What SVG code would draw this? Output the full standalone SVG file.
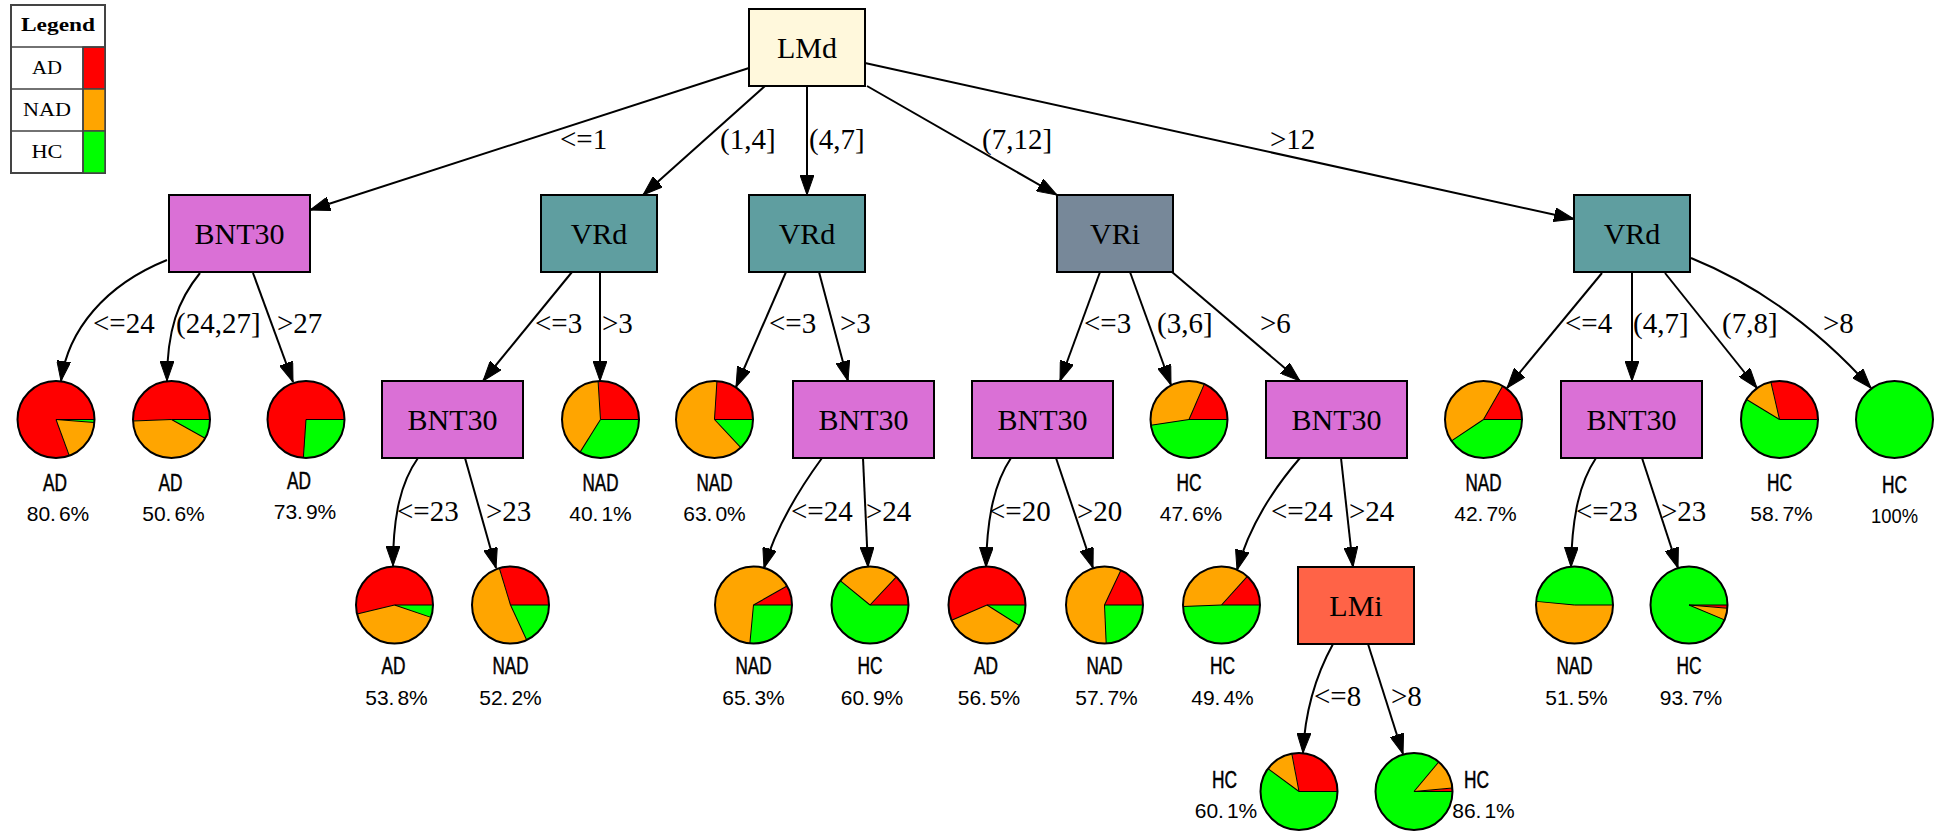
<svg xmlns="http://www.w3.org/2000/svg" width="1942" height="832" viewBox="0 0 1942 832">
<defs>
  <marker id="ah" markerUnits="userSpaceOnUse" viewBox="0 0 20 14" markerWidth="20" markerHeight="14" refX="20" refY="7" orient="auto">
    <path d="M0,0 L20,7 L0,14 Z" fill="#000" stroke="#000" stroke-width="1"/>
  </marker>
</defs>
<style>
  .box{stroke:#000;stroke-width:2}
  .orchid{fill:#da70d6}
  .cadet{fill:#5f9ea0}
  .slate{fill:#778899}
  .silk{fill:#fff8dc}
  .tomato{fill:#ff6347}
  .nl{font-family:"Liberation Serif","Times New Roman",serif;font-size:30px;text-anchor:middle;fill:#000}
  .el{font-family:"Liberation Serif","Times New Roman",serif;font-size:29px;fill:#000}
  .edge{fill:none;stroke:#000;stroke-width:2;marker-end:url(#ah)}
  .w{fill:none;stroke-width:38.5}
  .sr{stroke:#ff0000}
  .so{stroke:#ffa500}
  .sg{stroke:#00ff00}
  .fr{fill:#ff0000}
  .fo{fill:#ffa500}
  .fg{fill:#00ff00}
  .sep{stroke:#000;stroke-width:1;fill:none}
  .rim{fill:none;stroke:#000;stroke-width:2}
  .cls{font-family:"Liberation Sans",Arial,sans-serif;font-size:23px;text-anchor:middle;fill:#000;stroke:#000;stroke-width:0.5}
  .pct{font-family:"Liberation Sans",Arial,sans-serif;font-size:21px;text-anchor:middle;fill:#000}
  .lg{font-family:"Liberation Serif","Times New Roman",serif;font-size:19px;text-anchor:middle;fill:#000}
  .cell{stroke:#444;stroke-width:1.5}
</style>
<rect width="1942" height="832" fill="#fff"/>

<!-- legend table -->
<g id="legend">
  <rect x="11" y="5" width="94" height="168" fill="#fff" stroke="#444" stroke-width="2"/>
  <rect x="83" y="47" width="22" height="42" class="fr cell"/>
  <rect x="83" y="89" width="22" height="42" class="fo cell"/>
  <rect x="83" y="131" width="22" height="42" class="fg cell"/>
  <path d="M11,47H105M11,89H83M11,131H83M83,47V173" class="cell" fill="none"/>
  <text class="lg" x="58" y="31" font-weight="bold" font-size="20" textLength="74" lengthAdjust="spacingAndGlyphs">Legend</text>
  <text class="lg" x="47" y="74" textLength="30" lengthAdjust="spacingAndGlyphs">AD</text>
  <text class="lg" x="47" y="116" textLength="48" lengthAdjust="spacingAndGlyphs">NAD</text>
  <text class="lg" x="47" y="158" textLength="31" lengthAdjust="spacingAndGlyphs">HC</text>
</g>

<!-- connectors -->
<g id="connectors">
  <path class="edge" d="M749,68 L310,210"/>
  <path class="edge" d="M765,86 L643,195"/>
  <path class="edge" d="M807,86 L807,195"/>
  <path class="edge" d="M867,86 L1057,195"/>
  <path class="edge" d="M865,63 L1574,219"/>

  <path class="edge" d="M167,260 C105,285 68,330 61,381"/>
  <path class="edge" d="M200,273 C178,300 167,330 167,381"/>
  <path class="edge" d="M253,273 L293,382"/>
  <path class="edge" d="M572,272 L483,381"/>
  <path class="edge" d="M600,272 L600,381"/>
  <path class="edge" d="M786,272 L736,387"/>
  <path class="edge" d="M819,272 L848,381"/>
  <path class="edge" d="M1100,272 L1060,381"/>
  <path class="edge" d="M1130,272 L1171,385"/>
  <path class="edge" d="M1172,272 L1300,381"/>
  <path class="edge" d="M1602,273 L1507,388"/>
  <path class="edge" d="M1632,273 L1632,381"/>
  <path class="edge" d="M1665,273 L1757,388"/>
  <path class="edge" d="M1691,258 C1750,282 1810,320 1871,388"/>

  <path class="edge" d="M418,458 C401,482 393,515 393,566"/>
  <path class="edge" d="M465,458 L496,568"/>
  <path class="edge" d="M822,458 C795,495 775,530 764,568"/>
  <path class="edge" d="M863,458 L868,567"/>
  <path class="edge" d="M1011,458 C995,482 987,515 986,567"/>
  <path class="edge" d="M1056,458 L1093,568"/>
  <path class="edge" d="M1300,458 C1268,495 1248,530 1237,570"/>
  <path class="edge" d="M1341,458 L1353,567"/>
  <path class="edge" d="M1596,458 C1580,482 1572,515 1571,567"/>
  <path class="edge" d="M1642,458 L1678,568"/>

  <path class="edge" d="M1333,644 C1316,675 1305,710 1303,753"/>
  <path class="edge" d="M1368,644 L1403,754"/>

  <text class="el" x="560" y="149">&lt;=1</text>
  <text class="el" x="720" y="149">(1,4]</text>
  <text class="el" x="809" y="149">(4,7]</text>
  <text class="el" x="982" y="149">(7,12]</text>
  <text class="el" x="1270" y="149">&gt;12</text>

  <text class="el" x="93" y="333">&lt;=24</text>
  <text class="el" x="176" y="333">(24,27]</text>
  <text class="el" x="277" y="333">&gt;27</text>
  <text class="el" x="535" y="333">&lt;=3</text>
  <text class="el" x="602" y="333">&gt;3</text>
  <text class="el" x="769" y="333">&lt;=3</text>
  <text class="el" x="840" y="333">&gt;3</text>
  <text class="el" x="1084" y="333">&lt;=3</text>
  <text class="el" x="1157" y="333">(3,6]</text>
  <text class="el" x="1260" y="333">&gt;6</text>
  <text class="el" x="1565" y="333">&lt;=4</text>
  <text class="el" x="1633" y="333">(4,7]</text>
  <text class="el" x="1722" y="333">(7,8]</text>
  <text class="el" x="1823" y="333">&gt;8</text>

  <text class="el" x="397" y="521">&lt;=23</text>
  <text class="el" x="486" y="521">&gt;23</text>
  <text class="el" x="791" y="521">&lt;=24</text>
  <text class="el" x="866" y="521">&gt;24</text>
  <text class="el" x="989" y="521">&lt;=20</text>
  <text class="el" x="1077" y="521">&gt;20</text>
  <text class="el" x="1271" y="521">&lt;=24</text>
  <text class="el" x="1349" y="521">&gt;24</text>
  <text class="el" x="1576" y="521">&lt;=23</text>
  <text class="el" x="1661" y="521">&gt;23</text>

  <text class="el" x="1314" y="706">&lt;=8</text>
  <text class="el" x="1391" y="706">&gt;8</text>
</g>

<!-- split nodes -->
<g id="n-lmd"><rect class="box silk" x="749" y="9" width="116" height="77"/><text class="nl" x="807" y="57.5">LMd</text></g>
<g id="n-bnt30-a"><rect class="box orchid" x="169" y="195" width="141" height="77"/><text class="nl" x="239.5" y="243.5">BNT30</text></g>
<g id="n-vrd-a"><rect class="box cadet" x="541" y="195" width="116" height="77"/><text class="nl" x="599" y="243.5">VRd</text></g>
<g id="n-vrd-b"><rect class="box cadet" x="749" y="195" width="116" height="77"/><text class="nl" x="807" y="243.5">VRd</text></g>
<g id="n-vri"><rect class="box slate" x="1057" y="195" width="116" height="77"/><text class="nl" x="1115" y="243.5">VRi</text></g>
<g id="n-vrd-c"><rect class="box cadet" x="1574" y="195" width="116" height="77"/><text class="nl" x="1632" y="243.5">VRd</text></g>
<g id="n-bnt30-b"><rect class="box orchid" x="382" y="381" width="141" height="77"/><text class="nl" x="452.5" y="429.5">BNT30</text></g>
<g id="n-bnt30-c"><rect class="box orchid" x="793" y="381" width="141" height="77"/><text class="nl" x="863.5" y="429.5">BNT30</text></g>
<g id="n-bnt30-d"><rect class="box orchid" x="972" y="381" width="141" height="77"/><text class="nl" x="1042.5" y="429.5">BNT30</text></g>
<g id="n-bnt30-e"><rect class="box orchid" x="1266" y="381" width="141" height="77"/><text class="nl" x="1336.5" y="429.5">BNT30</text></g>
<g id="n-bnt30-f"><rect class="box orchid" x="1561" y="381" width="141" height="77"/><text class="nl" x="1631.5" y="429.5">BNT30</text></g>
<g id="n-lmi"><rect class="box tomato" x="1298" y="567" width="116" height="77"/><text class="nl" x="1356" y="615.5">LMi</text></g>

<!-- leaf pies: wedges run counter-clockwise from east -->
<g id="leaf-1" transform="translate(56,419.5)">
  <circle r="38.5" class="fg"/>
  <g transform="scale(1,-1)">
    <circle class="w sr" r="19.25" pathLength="100" stroke-dasharray="80.6 100"/>
    <circle class="w so" r="19.25" pathLength="100" stroke-dasharray="18.15 100" stroke-dashoffset="-80.6"/>
    <path class="sep" d="M0,0H38.5"/><path class="sep" d="M0,0H38.5" transform="rotate(290.16)"/><path class="sep" d="M0,0H38.5" transform="rotate(355.5)"/>
  </g>
  <circle r="38.5" class="rim"/>
  <text class="cls" x="-1" y="71" textLength="24" lengthAdjust="spacingAndGlyphs">AD</text>
  <text class="pct" x="2" y="101">80.<tspan dx="3">6%</tspan></text>
</g>
<g id="leaf-2" transform="translate(171.5,419.5)">
  <circle r="38.5" class="fg"/>
  <g transform="scale(1,-1)">
    <circle class="w sr" r="19.25" pathLength="100" stroke-dasharray="50.6 100"/>
    <circle class="w so" r="19.25" pathLength="100" stroke-dasharray="41.3 100" stroke-dashoffset="-50.6"/>
    <path class="sep" d="M0,0H38.5"/><path class="sep" d="M0,0H38.5" transform="rotate(182.16)"/><path class="sep" d="M0,0H38.5" transform="rotate(330.84)"/>
  </g>
  <circle r="38.5" class="rim"/>
  <text class="cls" x="-1" y="71" textLength="24" lengthAdjust="spacingAndGlyphs">AD</text>
  <text class="pct" x="2" y="101">50.<tspan dx="3">6%</tspan></text>
</g>
<g id="leaf-3" transform="translate(306,419.5)">
  <circle r="38.5" class="fg"/>
  <g transform="scale(1,-1)">
    <circle class="w sr" r="19.25" pathLength="100" stroke-dasharray="73.9 100"/>
    <path class="sep" d="M0,0H38.5"/><path class="sep" d="M0,0H38.5" transform="rotate(266.04)"/>
  </g>
  <circle r="38.5" class="rim"/>
  <text class="cls" x="-7" y="69" textLength="24" lengthAdjust="spacingAndGlyphs">AD</text>
  <text class="pct" x="-1" y="99">73.<tspan dx="3">9%</tspan></text>
</g>
<g id="leaf-4" transform="translate(600.5,419.5)">
  <circle r="38.5" class="fg"/>
  <g transform="scale(1,-1)">
    <circle class="w sr" r="19.25" pathLength="100" stroke-dasharray="26 100"/>
    <circle class="w so" r="19.25" pathLength="100" stroke-dasharray="40.1 100" stroke-dashoffset="-26"/>
    <path class="sep" d="M0,0H38.5"/><path class="sep" d="M0,0H38.5" transform="rotate(93.6)"/><path class="sep" d="M0,0H38.5" transform="rotate(237.96)"/>
  </g>
  <circle r="38.5" class="rim"/>
  <text class="cls" x="0" y="71" textLength="36" lengthAdjust="spacingAndGlyphs">NAD</text>
  <text class="pct" x="0" y="101">40.<tspan dx="3">1%</tspan></text>
</g>
<g id="leaf-5" transform="translate(714.5,419.5)">
  <circle r="38.5" class="fg"/>
  <g transform="scale(1,-1)">
    <circle class="w sr" r="19.25" pathLength="100" stroke-dasharray="24 100"/>
    <circle class="w so" r="19.25" pathLength="100" stroke-dasharray="63 100" stroke-dashoffset="-24"/>
    <path class="sep" d="M0,0H38.5"/><path class="sep" d="M0,0H38.5" transform="rotate(86.4)"/><path class="sep" d="M0,0H38.5" transform="rotate(313.2)"/>
  </g>
  <circle r="38.5" class="rim"/>
  <text class="cls" x="0" y="71" textLength="36" lengthAdjust="spacingAndGlyphs">NAD</text>
  <text class="pct" x="0" y="101">63.<tspan dx="3">0%</tspan></text>
</g>
<g id="leaf-6" transform="translate(1189,419.5)">
  <circle r="38.5" class="fg"/>
  <g transform="scale(1,-1)">
    <circle class="w sr" r="19.25" pathLength="100" stroke-dasharray="18.5 100"/>
    <circle class="w so" r="19.25" pathLength="100" stroke-dasharray="33.9 100" stroke-dashoffset="-18.5"/>
    <path class="sep" d="M0,0H38.5"/><path class="sep" d="M0,0H38.5" transform="rotate(66.6)"/><path class="sep" d="M0,0H38.5" transform="rotate(188.64)"/>
  </g>
  <circle r="38.5" class="rim"/>
  <text class="cls" x="0" y="71" textLength="25" lengthAdjust="spacingAndGlyphs">HC</text>
  <text class="pct" x="2" y="101">47.<tspan dx="3">6%</tspan></text>
</g>
<g id="leaf-7" transform="translate(1483.5,419.5)">
  <circle r="38.5" class="fg"/>
  <g transform="scale(1,-1)">
    <circle class="w sr" r="19.25" pathLength="100" stroke-dasharray="16.7 100"/>
    <circle class="w so" r="19.25" pathLength="100" stroke-dasharray="42.7 100" stroke-dashoffset="-16.7"/>
    <path class="sep" d="M0,0H38.5"/><path class="sep" d="M0,0H38.5" transform="rotate(60.12)"/><path class="sep" d="M0,0H38.5" transform="rotate(213.84)"/>
  </g>
  <circle r="38.5" class="rim"/>
  <text class="cls" x="0" y="71" textLength="36" lengthAdjust="spacingAndGlyphs">NAD</text>
  <text class="pct" x="2" y="101">42.<tspan dx="3">7%</tspan></text>
</g>
<g id="leaf-8" transform="translate(1779.5,419.5)">
  <circle r="38.5" class="fg"/>
  <g transform="scale(1,-1)">
    <circle class="w sr" r="19.25" pathLength="100" stroke-dasharray="28.6 100"/>
    <circle class="w so" r="19.25" pathLength="100" stroke-dasharray="12.7 100" stroke-dashoffset="-28.6"/>
    <path class="sep" d="M0,0H38.5"/><path class="sep" d="M0,0H38.5" transform="rotate(102.96)"/><path class="sep" d="M0,0H38.5" transform="rotate(148.68)"/>
  </g>
  <circle r="38.5" class="rim"/>
  <text class="cls" x="0" y="71" textLength="25" lengthAdjust="spacingAndGlyphs">HC</text>
  <text class="pct" x="2" y="101">58.<tspan dx="3">7%</tspan></text>
</g>
<g id="leaf-9" transform="translate(1894.5,419.5)">
  <circle r="38.5" class="fg"/>
  <circle r="38.5" class="rim"/>
  <text class="cls" x="0" y="73" textLength="25" lengthAdjust="spacingAndGlyphs">HC</text>
  <text class="pct" x="0" y="103" textLength="47" lengthAdjust="spacingAndGlyphs">100%</text>
</g>

<g id="leaf-10" transform="translate(394.5,605)">
  <circle r="38.5" class="fg"/>
  <g transform="scale(1,-1)">
    <circle class="w sr" r="19.25" pathLength="100" stroke-dasharray="53.8 100"/>
    <circle class="w so" r="19.25" pathLength="100" stroke-dasharray="41 100" stroke-dashoffset="-53.8"/>
    <path class="sep" d="M0,0H38.5"/><path class="sep" d="M0,0H38.5" transform="rotate(193.68)"/><path class="sep" d="M0,0H38.5" transform="rotate(341.28)"/>
  </g>
  <circle r="38.5" class="rim"/>
  <text class="cls" x="-1" y="69" textLength="24" lengthAdjust="spacingAndGlyphs">AD</text>
  <text class="pct" x="2" y="100">53.<tspan dx="3">8%</tspan></text>
</g>
<g id="leaf-11" transform="translate(510.5,605)">
  <circle r="38.5" class="fg"/>
  <g transform="scale(1,-1)">
    <circle class="w sr" r="19.25" pathLength="100" stroke-dasharray="29.7 100"/>
    <circle class="w so" r="19.25" pathLength="100" stroke-dasharray="52.2 100" stroke-dashoffset="-29.7"/>
    <path class="sep" d="M0,0H38.5"/><path class="sep" d="M0,0H38.5" transform="rotate(106.92)"/><path class="sep" d="M0,0H38.5" transform="rotate(294.84)"/>
  </g>
  <circle r="38.5" class="rim"/>
  <text class="cls" x="0" y="69" textLength="36" lengthAdjust="spacingAndGlyphs">NAD</text>
  <text class="pct" x="0" y="100">52.<tspan dx="3">2%</tspan></text>
</g>
<g id="leaf-12" transform="translate(753.5,605)">
  <circle r="38.5" class="fg"/>
  <g transform="scale(1,-1)">
    <circle class="w sr" r="19.25" pathLength="100" stroke-dasharray="8.2 100"/>
    <circle class="w so" r="19.25" pathLength="100" stroke-dasharray="65.3 100" stroke-dashoffset="-8.2"/>
    <path class="sep" d="M0,0H38.5"/><path class="sep" d="M0,0H38.5" transform="rotate(29.52)"/><path class="sep" d="M0,0H38.5" transform="rotate(264.6)"/>
  </g>
  <circle r="38.5" class="rim"/>
  <text class="cls" x="0" y="69" textLength="36" lengthAdjust="spacingAndGlyphs">NAD</text>
  <text class="pct" x="0" y="100">65.<tspan dx="3">3%</tspan></text>
</g>
<g id="leaf-13" transform="translate(870,605)">
  <circle r="38.5" class="fg"/>
  <g transform="scale(1,-1)">
    <circle class="w sr" r="19.25" pathLength="100" stroke-dasharray="13 100"/>
    <circle class="w so" r="19.25" pathLength="100" stroke-dasharray="26.1 100" stroke-dashoffset="-13"/>
    <path class="sep" d="M0,0H38.5"/><path class="sep" d="M0,0H38.5" transform="rotate(46.8)"/><path class="sep" d="M0,0H38.5" transform="rotate(140.76)"/>
  </g>
  <circle r="38.5" class="rim"/>
  <text class="cls" x="0" y="69" textLength="25" lengthAdjust="spacingAndGlyphs">HC</text>
  <text class="pct" x="2" y="100">60.<tspan dx="3">9%</tspan></text>
</g>
<g id="leaf-14" transform="translate(987,605)">
  <circle r="38.5" class="fg"/>
  <g transform="scale(1,-1)">
    <circle class="w sr" r="19.25" pathLength="100" stroke-dasharray="56.5 100"/>
    <circle class="w so" r="19.25" pathLength="100" stroke-dasharray="34.5 100" stroke-dashoffset="-56.5"/>
    <path class="sep" d="M0,0H38.5"/><path class="sep" d="M0,0H38.5" transform="rotate(203.4)"/><path class="sep" d="M0,0H38.5" transform="rotate(327.6)"/>
  </g>
  <circle r="38.5" class="rim"/>
  <text class="cls" x="-1" y="69" textLength="24" lengthAdjust="spacingAndGlyphs">AD</text>
  <text class="pct" x="2" y="100">56.<tspan dx="3">5%</tspan></text>
</g>
<g id="leaf-15" transform="translate(1104.5,605)">
  <circle r="38.5" class="fg"/>
  <g transform="scale(1,-1)">
    <circle class="w sr" r="19.25" pathLength="100" stroke-dasharray="18 100"/>
    <circle class="w so" r="19.25" pathLength="100" stroke-dasharray="57.7 100" stroke-dashoffset="-18"/>
    <path class="sep" d="M0,0H38.5"/><path class="sep" d="M0,0H38.5" transform="rotate(64.8)"/><path class="sep" d="M0,0H38.5" transform="rotate(272.52)"/>
  </g>
  <circle r="38.5" class="rim"/>
  <text class="cls" x="0" y="69" textLength="36" lengthAdjust="spacingAndGlyphs">NAD</text>
  <text class="pct" x="2" y="100">57.<tspan dx="3">7%</tspan></text>
</g>
<g id="leaf-16" transform="translate(1221.5,605)">
  <circle r="38.5" class="fg"/>
  <g transform="scale(1,-1)">
    <circle class="w sr" r="19.25" pathLength="100" stroke-dasharray="13.3 100"/>
    <circle class="w so" r="19.25" pathLength="100" stroke-dasharray="37.3 100" stroke-dashoffset="-13.3"/>
    <path class="sep" d="M0,0H38.5"/><path class="sep" d="M0,0H38.5" transform="rotate(47.88)"/><path class="sep" d="M0,0H38.5" transform="rotate(182.16)"/>
  </g>
  <circle r="38.5" class="rim"/>
  <text class="cls" x="1" y="69" textLength="25" lengthAdjust="spacingAndGlyphs">HC</text>
  <text class="pct" x="1" y="100">49.<tspan dx="3">4%</tspan></text>
</g>
<g id="leaf-17" transform="translate(1574.5,605)">
  <circle r="38.5" class="fo"/>
  <g transform="scale(1,-1)">
    <circle class="w sg" r="19.25" pathLength="100" stroke-dasharray="48.5 100"/>
    <path class="sep" d="M0,0H38.5"/><path class="sep" d="M0,0H38.5" transform="rotate(174.6)"/>
  </g>
  <circle r="38.5" class="rim"/>
  <text class="cls" x="0" y="69" textLength="36" lengthAdjust="spacingAndGlyphs">NAD</text>
  <text class="pct" x="2" y="100">51.<tspan dx="3">5%</tspan></text>
</g>
<g id="leaf-18" transform="translate(1689,605)">
  <circle r="38.5" class="fr"/>
  <g transform="scale(1,-1)">
    <circle class="w sg" r="19.25" pathLength="100" stroke-dasharray="93.7 100"/>
    <circle class="w so" r="19.25" pathLength="100" stroke-dasharray="5 100" stroke-dashoffset="-93.7"/>
    <path class="sep" d="M0,0H38.5"/><path class="sep" d="M0,0H38.5" transform="rotate(337.32)"/><path class="sep" d="M0,0H38.5" transform="rotate(355.32)"/>
  </g>
  <circle r="38.5" class="rim"/>
  <text class="cls" x="0" y="69" textLength="25" lengthAdjust="spacingAndGlyphs">HC</text>
  <text class="pct" x="2" y="100">93.<tspan dx="3">7%</tspan></text>
</g>

<g id="leaf-19" transform="translate(1299,791.5)">
  <circle r="38.5" class="fg"/>
  <g transform="scale(1,-1)">
    <circle class="w sr" r="19.25" pathLength="100" stroke-dasharray="28 100"/>
    <circle class="w so" r="19.25" pathLength="100" stroke-dasharray="11.9 100" stroke-dashoffset="-28"/>
    <path class="sep" d="M0,0H38.5"/><path class="sep" d="M0,0H38.5" transform="rotate(100.8)"/><path class="sep" d="M0,0H38.5" transform="rotate(143.64)"/>
  </g>
  <circle r="38.5" class="rim"/>
  <text class="cls" x="-74.5" y="-3.5" textLength="25" lengthAdjust="spacingAndGlyphs">HC</text>
  <text class="pct" x="-73" y="26.5">60.<tspan dx="3">1%</tspan></text>
</g>
<g id="leaf-20" transform="translate(1414,791.5)">
  <circle r="38.5" class="fg"/>
  <g transform="scale(1,-1)">
    <circle class="w sr" r="19.25" pathLength="100" stroke-dasharray="1.4 100"/>
    <circle class="w so" r="19.25" pathLength="100" stroke-dasharray="12.5 100" stroke-dashoffset="-1.4"/>
    <path class="sep" d="M0,0H38.5"/><path class="sep" d="M0,0H38.5" transform="rotate(5.04)"/><path class="sep" d="M0,0H38.5" transform="rotate(50.04)"/>
  </g>
  <circle r="38.5" class="rim"/>
  <text class="cls" x="62.5" y="-3.5" textLength="25" lengthAdjust="spacingAndGlyphs">HC</text>
  <text class="pct" x="69.5" y="26.5">86.<tspan dx="3">1%</tspan></text>
</g>
</svg>
